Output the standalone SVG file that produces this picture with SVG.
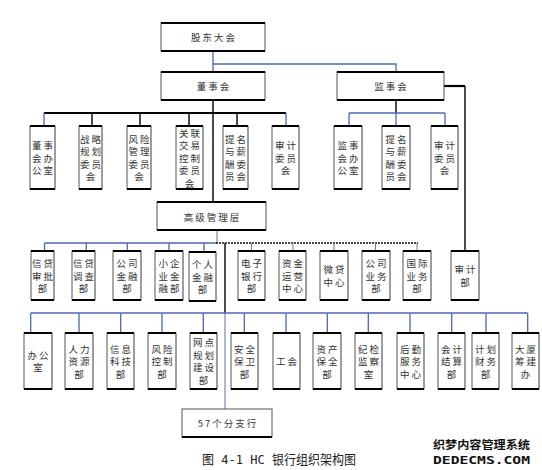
<svg xmlns="http://www.w3.org/2000/svg" width="542" height="470" viewBox="0 0 542 470">
<style>
.box{fill:#fff;stroke:#555;stroke-width:1}
.tb{stroke:#000;stroke-width:2.2;fill:none}
.sh{stroke:#999;stroke-width:1.5;fill:none}
.t{font-family:"Noto Sans CJK SC","Noto Sans CJK JP",sans-serif;font-size:9.5px;fill:#333;text-anchor:middle;letter-spacing:2px;dominant-baseline:central}
.bl{stroke:#4a68b5;stroke-width:1.3;fill:none}
.bk{stroke:#111;stroke-width:1.5;fill:none}
.bk2{stroke:#000;stroke-width:2.2;fill:none}
.gb{stroke:#8fa0bd;stroke-width:1.5;fill:none}
.dash{stroke:#111;stroke-width:1.6;stroke-dasharray:2 1;fill:none}
.tk{stroke:#6b7b99;stroke-width:1;fill:none}
</style>
<rect width="542" height="470" fill="#fff"/>
<g id="connectors">
<path class="bl" d="M213 51V64H396V72M213 64V72"/>
<path class="bk" d="M213 100V202"/>
<path class="bk2" d="M44 113H286"/>
<path class="bk" d="M92 113V126M140 113V126M189 113V126M237 113V126"/>
<path class="bl" d="M44 113V126M286 113V126"/>
<path class="bk" d="M396 100V113"/>
<path class="bl" d="M349 113H445M349 113V126M396 113V126M445 113V126"/>
<path class="bk2" d="M444 86H465"/>
<path class="bk" d="M465 86V251"/>
<path class="gb" d="M217 230V243"/>
<path class="bl" d="M44.5 243H216M44.5 243V251M86.3 243V251M127.3 243V251M169 243V251M204 243V251"/>
<path class="dash" d="M216 243H418"/>
<path class="tk" d="M251.5 243V251M293 243V251M334 243V251M375.5 243V251M417 243V251"/>
<path class="bk" d="M225 243V313"/>
<path class="gb" d="M225 313V409"/>
<path class="bl" d="M30.7 313H527.7M30.7 313V333M79 313V333M120.7 313V333M162 313V333M203.3 313V333M244.3 313V333M286 313V333M327.3 313V333M368.3 313V333M410 313V333M451.7 313V333M486 313V333M527.7 313V333"/>
</g>
<g id="n-gudongdahui"><rect class="box" x="161" y="23" width="104" height="28"/><path class="tb" d="M161 23h104M161 51h104"/><text class="t" x="214" y="37">股东大会</text></g>
<g id="n-dongshihui"><rect class="box" x="161" y="72" width="104" height="28"/><path class="tb" d="M161 72h104M161 100h104"/><text class="t" x="214" y="86">董事会</text></g>
<g id="n-jianshihui"><rect class="box" x="337" y="72" width="107" height="28"/><path class="tb" d="M337 72h107M337 100h107"/><text class="t" x="391.5" y="86">监事会</text></g>
<g id="n-gaoji"><rect class="box" x="157" y="202" width="109" height="28"/><path class="tb" d="M157 202h109M157 230h109"/><text class="t" x="212.5" y="216.5">高级管理层</text></g>
<g id="n-fenzhi"><rect class="box" x="182" y="409" width="90" height="28"/><path class="tb" d="M182 437h90"/><text class="t" x="228" y="423">57个分支行</text></g>

<g id="n-dsbgs"><rect class="box" x="30" y="126" width="25" height="63"/><path class="tb" d="M30 126h25M30 189h25"/><path class="sh" d="M55 127v61"/><text class="t" x="43.5" y="145">董事</text><text class="t" x="43.5" y="157.5">会办</text><text class="t" x="43.5" y="170">公室</text></g>
<g id="n-zlgh"><rect class="box" x="79" y="126" width="23" height="63"/><path class="tb" d="M79 126h23M79 189h23"/><path class="sh" d="M102 127v61"/><text class="t" x="91.5" y="138.75">战略</text><text class="t" x="91.5" y="151.25">规划</text><text class="t" x="91.5" y="163.75">委员</text><text class="t" x="91.5" y="176.25">会</text></g>
<g id="n-fxgl"><rect class="box" x="127" y="126" width="24" height="63"/><path class="tb" d="M127 126h24M127 189h24"/><path class="sh" d="M151 127v61"/><text class="t" x="140" y="138.75">风险</text><text class="t" x="140" y="151.25">管理</text><text class="t" x="140" y="163.75">委员</text><text class="t" x="140" y="176.25">会</text></g>
<g id="n-gljy"><rect class="box" x="176" y="126" width="27" height="63"/><path class="tb" d="M176 126h27M176 189h27"/><path class="sh" d="M203 127v61"/><text class="t" x="190.5" y="132.5">关联</text><text class="t" x="190.5" y="145">交易</text><text class="t" x="190.5" y="157.5">控制</text><text class="t" x="190.5" y="170">委员</text><text class="t" x="190.5" y="182.5">会</text></g>
<g id="n-tmxc1"><rect class="box" x="223" y="126" width="25" height="63"/><path class="tb" d="M223 126h25M223 189h25"/><path class="sh" d="M248 127v61"/><text class="t" x="236.5" y="138.75">提名</text><text class="t" x="236.5" y="151.25">与薪</text><text class="t" x="236.5" y="163.75">酬委</text><text class="t" x="236.5" y="176.25">员会</text></g>
<g id="n-sjwy1"><rect class="box" x="272" y="126" width="27" height="63"/><path class="tb" d="M272 126h27M272 189h27"/><path class="sh" d="M299 127v61"/><text class="t" x="286.5" y="145">审计</text><text class="t" x="286.5" y="157.5">委员</text><text class="t" x="286.5" y="170">会</text></g>
<g id="n-jsbgs"><rect class="box" x="334" y="126" width="28" height="63"/><path class="tb" d="M334 126h28M334 189h28"/><path class="sh" d="M362 127v61"/><text class="t" x="349" y="145">监事</text><text class="t" x="349" y="157.5">会办</text><text class="t" x="349" y="170">公室</text></g>
<g id="n-tmxc2"><rect class="box" x="382" y="126" width="28" height="63"/><path class="tb" d="M382 126h28M382 189h28"/><path class="sh" d="M410 127v61"/><text class="t" x="397" y="138.75">提名</text><text class="t" x="397" y="151.25">与薪</text><text class="t" x="397" y="163.75">酬委</text><text class="t" x="397" y="176.25">员会</text></g>
<g id="n-sjwy2"><rect class="box" x="431" y="126" width="27" height="63"/><path class="tb" d="M431 126h27M431 189h27"/><path class="sh" d="M458 127v61"/><text class="t" x="445.5" y="145">审计</text><text class="t" x="445.5" y="157.5">委员</text><text class="t" x="445.5" y="170">会</text></g>

<g id="n-xdsp"><rect class="box" x="31" y="251" width="23" height="49"/><path class="tb" d="M31 251h23M31 300h23"/><path class="sh" d="M54 252v47"/><text class="t" x="43.5" y="263">信贷</text><text class="t" x="43.5" y="275.5">审批</text><text class="t" x="43.5" y="288">部</text></g>
<g id="n-xddc"><rect class="box" x="72" y="251" width="23" height="49"/><path class="tb" d="M72 251h23M72 300h23"/><path class="sh" d="M95 252v47"/><text class="t" x="84.5" y="263">信贷</text><text class="t" x="84.5" y="275.5">调查</text><text class="t" x="84.5" y="288">部</text></g>
<g id="n-gsjr"><rect class="box" x="113" y="251" width="28" height="49"/><path class="tb" d="M113 251h28M113 300h28"/><path class="sh" d="M141 252v47"/><text class="t" x="128" y="263">公司</text><text class="t" x="128" y="275.5">金融</text><text class="t" x="128" y="288">部</text></g>
<g id="n-xqy"><rect class="box" x="155" y="251" width="28" height="49"/><path class="tb" d="M155 251h28M155 300h28"/><path class="sh" d="M183 252v47"/><text class="t" x="170" y="263">小企</text><text class="t" x="170" y="275.5">业金</text><text class="t" x="170" y="288">融部</text></g>
<g id="n-grjr"><rect class="box" x="189" y="252" width="27" height="49"/><path class="tb" d="M189 252h27M189 301h27"/><path class="sh" d="M216 253v47"/><text class="t" x="203.5" y="264">个人</text><text class="t" x="203.5" y="276.5">金融</text><text class="t" x="203.5" y="289">部</text></g>
<g id="n-dzyh"><rect class="box" x="238" y="251" width="27" height="49"/><path class="tb" d="M238 251h27M238 300h27"/><path class="sh" d="M265 252v47"/><text class="t" x="252.5" y="263">电子</text><text class="t" x="252.5" y="275.5">银行</text><text class="t" x="252.5" y="288">部</text></g>
<g id="n-zjyy"><rect class="box" x="279" y="251" width="27" height="49"/><path class="tb" d="M279 251h27M279 300h27"/><path class="sh" d="M306 252v47"/><text class="t" x="293.5" y="263">资金</text><text class="t" x="293.5" y="275.5">运营</text><text class="t" x="293.5" y="288">中心</text></g>
<g id="n-wdzx"><rect class="box" x="320" y="251" width="28" height="49"/><path class="tb" d="M320 251h28M320 300h28"/><path class="sh" d="M348 252v47"/><text class="t" x="335" y="269.25">微贷</text><text class="t" x="335" y="281.75">中心</text></g>
<g id="n-gsyw"><rect class="box" x="362" y="251" width="28" height="49"/><path class="tb" d="M362 251h28M362 300h28"/><path class="sh" d="M390 252v47"/><text class="t" x="377" y="263">公司</text><text class="t" x="377" y="275.5">业务</text><text class="t" x="377" y="288">部</text></g>
<g id="n-gjyw"><rect class="box" x="403" y="251" width="28" height="49"/><path class="tb" d="M403 251h28M403 300h28"/><path class="sh" d="M431 252v47"/><text class="t" x="418" y="263">国际</text><text class="t" x="418" y="275.5">业务</text><text class="t" x="418" y="288">部</text></g>
<g id="n-sjb"><rect class="box" x="451" y="251" width="28" height="49"/><path class="tb" d="M451 251h28M451 300h28"/><path class="sh" d="M479 252v47"/><text class="t" x="466" y="269.25">审计</text><text class="t" x="466" y="281.75">部</text></g>

<g id="n-bgs"><rect class="box" x="24" y="333" width="28" height="56"/><path class="tb" d="M24 333h28M24 389h28"/><path class="sh" d="M52 334v54"/><text class="t" x="39" y="354.75">办公</text><text class="t" x="39" y="367.25">室</text></g>
<g id="n-rlzy"><rect class="box" x="65" y="333" width="28" height="56"/><path class="tb" d="M65 333h28M65 389h28"/><path class="sh" d="M93 334v54"/><text class="t" x="80" y="348.5">人力</text><text class="t" x="80" y="361">资源</text><text class="t" x="80" y="373.5">部</text></g>
<g id="n-xxkj"><rect class="box" x="107" y="333" width="27" height="56"/><path class="tb" d="M107 333h27M107 389h27"/><path class="sh" d="M134 334v54"/><text class="t" x="121.5" y="348.5">信息</text><text class="t" x="121.5" y="361">科技</text><text class="t" x="121.5" y="373.5">部</text></g>
<g id="n-fxkz"><rect class="box" x="148" y="333" width="28" height="56"/><path class="tb" d="M148 333h28M148 389h28"/><path class="sh" d="M176 334v54"/><text class="t" x="163" y="348.5">风险</text><text class="t" x="163" y="361">控制</text><text class="t" x="163" y="373.5">部</text></g>
<g id="n-wdgh"><rect class="box" x="190" y="333" width="27" height="56"/><path class="tb" d="M190 333h27M190 389h27"/><path class="sh" d="M217 334v54"/><text class="t" x="204.5" y="342.25">网点</text><text class="t" x="204.5" y="354.75">规划</text><text class="t" x="204.5" y="367.25">建设</text><text class="t" x="204.5" y="379.75">部</text></g>
<g id="n-aqbw"><rect class="box" x="231" y="333" width="27" height="56"/><path class="tb" d="M231 333h27M231 389h27"/><path class="sh" d="M258 334v54"/><text class="t" x="245.5" y="348.5">安全</text><text class="t" x="245.5" y="361">保卫</text><text class="t" x="245.5" y="373.5">部</text></g>
<g id="n-gh"><rect class="box" x="273" y="333" width="27" height="56"/><path class="tb" d="M273 333h27M273 389h27"/><path class="sh" d="M300 334v54"/><text class="t" x="287.5" y="361">工会</text></g>
<g id="n-zcbq"><rect class="box" x="313" y="333" width="28" height="56"/><path class="tb" d="M313 333h28M313 389h28"/><path class="sh" d="M341 334v54"/><text class="t" x="328" y="348.5">资产</text><text class="t" x="328" y="361">保全</text><text class="t" x="328" y="373.5">部</text></g>
<g id="n-jjjc"><rect class="box" x="355" y="333" width="27" height="56"/><path class="tb" d="M355 333h27M355 389h27"/><path class="sh" d="M382 334v54"/><text class="t" x="369.5" y="348.5">纪检</text><text class="t" x="369.5" y="361">监察</text><text class="t" x="369.5" y="373.5">室</text></g>
<g id="n-hqfw"><rect class="box" x="397" y="333" width="27" height="56"/><path class="tb" d="M397 333h27M397 389h27"/><path class="sh" d="M424 334v54"/><text class="t" x="411.5" y="348.5">后勤</text><text class="t" x="411.5" y="361">服务</text><text class="t" x="411.5" y="373.5">中心</text></g>
<g id="n-kjjs"><rect class="box" x="438" y="333" width="27" height="56"/><path class="tb" d="M438 333h27M438 389h27"/><path class="sh" d="M465 334v54"/><text class="t" x="452.5" y="348.5">会计</text><text class="t" x="452.5" y="361">结算</text><text class="t" x="452.5" y="373.5">部</text></g>
<g id="n-jhcw"><rect class="box" x="472" y="333" width="27" height="56"/><path class="tb" d="M472 333h27M472 389h27"/><path class="sh" d="M499 334v54"/><text class="t" x="486.5" y="348.5">计划</text><text class="t" x="486.5" y="361">财务</text><text class="t" x="486.5" y="373.5">部</text></g>
<g id="n-dscj"><rect class="box" x="512" y="333" width="27" height="56"/><path class="tb" d="M512 333h27M512 389h27"/><path class="sh" d="M539 334v54"/><text class="t" x="526.5" y="348.5">大厦</text><text class="t" x="526.5" y="361">筹建</text><text class="t" x="526.5" y="373.5">办</text></g>

<text x="202" y="464" textLength="154" lengthAdjust="spacingAndGlyphs" style="font-family:'DejaVu Sans Mono','Noto Sans CJK SC',monospace;font-size:13px;fill:#222">图 4-1 HC 银行组织架构图</text>
<text x="433" y="449" textLength="97" lengthAdjust="spacingAndGlyphs" style="font-family:'Noto Sans CJK SC',sans-serif;font-size:11.5px;font-weight:bold;fill:#111">织梦内容管理系统</text>
<text x="433" y="463.5" textLength="97" lengthAdjust="spacingAndGlyphs" style="font-family:'DejaVu Sans Mono',monospace;font-size:11px;font-weight:bold;fill:#111">DEDECMS.COM</text>
</svg>
